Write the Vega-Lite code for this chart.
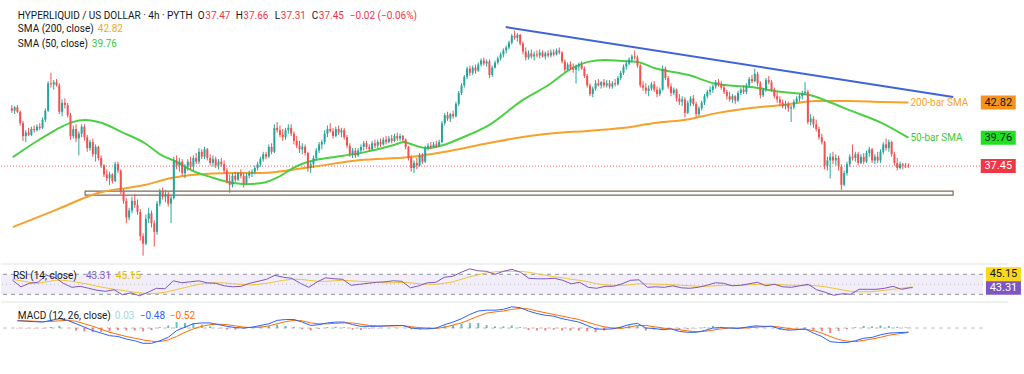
{
"$schema":"https://vega.github.io/schema/vega-lite/v6.json",
"background":"#ffffff",
"padding":0,
"spacing":1,
"config":{"view":{"stroke":null},"font":"Roboto"},
"datasets":{
"candles":[
{"t":"2025-06-14T04:00","o":42.3,"h":42.6,"l":41.9,"c":42.1},{"t":"2025-06-14T08:00","o":42.1,"h":42.5,"l":41.8,"c":42.4},{"t":"2025-06-14T12:00","o":42.4,"h":42.6,"l":41.9,"c":42.0},{"t":"2025-06-14T16:00","o":42.0,"h":42.1,"l":40.8,"c":41.0},{"t":"2025-06-14T20:00","o":41.0,"h":41.2,"l":39.5,"c":39.9},
{"t":"2025-06-15T00:00","o":39.9,"h":40.4,"l":39.4,"c":40.2},{"t":"2025-06-15T04:00","o":40.2,"h":40.6,"l":39.9,"c":40.0},{"t":"2025-06-15T08:00","o":40.0,"h":40.7,"l":39.9,"c":40.5},{"t":"2025-06-15T12:00","o":40.5,"h":40.8,"l":40.2,"c":40.4},{"t":"2025-06-15T16:00","o":40.4,"h":40.9,"l":40.3,"c":40.7},{"t":"2025-06-15T20:00","o":40.7,"h":41.0,"l":40.4,"c":40.6},
{"t":"2025-06-16T00:00","o":40.6,"h":41.5,"l":40.5,"c":41.3},{"t":"2025-06-16T04:00","o":41.3,"h":42.3,"l":41.1,"c":42.1},{"t":"2025-06-16T08:00","o":42.1,"h":44.8,"l":42.0,"c":44.6},{"t":"2025-06-16T12:00","o":44.6,"h":45.6,"l":44.2,"c":44.5},{"t":"2025-06-16T16:00","o":44.5,"h":44.9,"l":44.0,"c":44.7},{"t":"2025-06-16T20:00","o":44.7,"h":45.0,"l":44.3,"c":44.4},
{"t":"2025-06-17T00:00","o":44.4,"h":44.6,"l":41.8,"c":42.0},{"t":"2025-06-17T04:00","o":42.0,"h":43.1,"l":41.6,"c":42.8},{"t":"2025-06-17T08:00","o":42.8,"h":43.2,"l":42.3,"c":42.6},{"t":"2025-06-17T12:00","o":42.6,"h":42.8,"l":41.5,"c":41.7},{"t":"2025-06-17T16:00","o":41.7,"h":41.9,"l":39.6,"c":39.9},{"t":"2025-06-17T20:00","o":39.9,"h":40.8,"l":39.7,"c":40.5},
{"t":"2025-06-18T00:00","o":40.5,"h":40.9,"l":39.4,"c":39.7},{"t":"2025-06-18T04:00","o":39.7,"h":40.3,"l":38.3,"c":40.1},{"t":"2025-06-18T08:00","o":40.1,"h":40.9,"l":39.8,"c":40.7},{"t":"2025-06-18T12:00","o":40.7,"h":40.9,"l":39.5,"c":39.8},{"t":"2025-06-18T16:00","o":39.8,"h":40.0,"l":38.6,"c":38.9},{"t":"2025-06-18T20:00","o":38.9,"h":39.6,"l":38.7,"c":39.4},
{"t":"2025-06-19T00:00","o":39.4,"h":39.7,"l":38.2,"c":38.4},{"t":"2025-06-19T04:00","o":38.4,"h":39.2,"l":37.8,"c":39.0},{"t":"2025-06-19T08:00","o":39.0,"h":39.1,"l":37.9,"c":38.1},{"t":"2025-06-19T12:00","o":38.1,"h":38.3,"l":37.3,"c":37.5},{"t":"2025-06-19T16:00","o":37.5,"h":37.6,"l":36.6,"c":36.8},{"t":"2025-06-19T20:00","o":36.8,"h":37.2,"l":36.3,"c":36.5},
{"t":"2025-06-20T00:00","o":36.5,"h":37.0,"l":36.0,"c":36.8},{"t":"2025-06-20T04:00","o":36.8,"h":36.9,"l":36.1,"c":36.3},{"t":"2025-06-20T08:00","o":36.3,"h":37.8,"l":36.2,"c":37.6},{"t":"2025-06-20T12:00","o":37.6,"h":37.8,"l":36.9,"c":37.1},{"t":"2025-06-20T16:00","o":37.1,"h":37.2,"l":35.3,"c":35.5},{"t":"2025-06-20T20:00","o":35.5,"h":35.7,"l":34.6,"c":34.8},
{"t":"2025-06-21T00:00","o":34.8,"h":35.0,"l":33.2,"c":33.6},{"t":"2025-06-21T04:00","o":33.6,"h":34.3,"l":33.4,"c":34.1},{"t":"2025-06-21T08:00","o":34.1,"h":35.1,"l":33.9,"c":34.8},{"t":"2025-06-21T12:00","o":34.8,"h":35.3,"l":34.3,"c":34.5},{"t":"2025-06-21T16:00","o":34.5,"h":34.9,"l":33.8,"c":34.0},{"t":"2025-06-21T20:00","o":34.0,"h":34.2,"l":32.0,"c":32.3},
{"t":"2025-06-22T00:00","o":32.3,"h":32.5,"l":31.0,"c":31.8},{"t":"2025-06-22T04:00","o":31.8,"h":33.8,"l":31.7,"c":33.5},{"t":"2025-06-22T08:00","o":33.5,"h":34.3,"l":33.2,"c":33.9},{"t":"2025-06-22T12:00","o":33.9,"h":34.1,"l":32.9,"c":33.2},{"t":"2025-06-22T16:00","o":33.2,"h":33.4,"l":31.6,"c":32.6},{"t":"2025-06-22T20:00","o":32.6,"h":34.8,"l":32.4,"c":34.6},
{"t":"2025-06-23T00:00","o":34.6,"h":35.7,"l":34.4,"c":35.5},{"t":"2025-06-23T04:00","o":35.5,"h":35.8,"l":34.9,"c":35.1},{"t":"2025-06-23T08:00","o":35.1,"h":35.6,"l":34.7,"c":35.3},{"t":"2025-06-23T12:00","o":35.3,"h":35.5,"l":34.4,"c":34.6},{"t":"2025-06-23T16:00","o":34.6,"h":35.2,"l":33.2,"c":35.0},{"t":"2025-06-23T20:00","o":35.0,"h":38.2,"l":34.9,"c":37.9},
{"t":"2025-06-24T00:00","o":37.9,"h":38.3,"l":37.2,"c":37.5},{"t":"2025-06-24T04:00","o":37.5,"h":38.1,"l":37.0,"c":37.8},{"t":"2025-06-24T08:00","o":37.8,"h":38.0,"l":36.7,"c":36.9},{"t":"2025-06-24T12:00","o":36.9,"h":37.6,"l":36.5,"c":37.4},{"t":"2025-06-24T16:00","o":37.4,"h":38.0,"l":37.1,"c":37.8},{"t":"2025-06-24T20:00","o":37.8,"h":38.2,"l":37.2,"c":37.4},
{"t":"2025-06-25T00:00","o":37.4,"h":38.3,"l":37.1,"c":38.1},{"t":"2025-06-25T04:00","o":38.1,"h":38.5,"l":37.6,"c":37.8},{"t":"2025-06-25T08:00","o":37.8,"h":38.9,"l":37.6,"c":38.6},{"t":"2025-06-25T12:00","o":38.6,"h":38.8,"l":38.0,"c":38.2},{"t":"2025-06-25T16:00","o":38.2,"h":39.0,"l":38.0,"c":38.8},{"t":"2025-06-25T20:00","o":38.8,"h":38.9,"l":37.9,"c":38.1},
{"t":"2025-06-26T00:00","o":38.1,"h":38.4,"l":37.5,"c":37.7},{"t":"2025-06-26T04:00","o":37.7,"h":38.3,"l":37.4,"c":38.0},{"t":"2025-06-26T08:00","o":38.0,"h":38.2,"l":37.3,"c":37.5},{"t":"2025-06-26T12:00","o":37.5,"h":38.0,"l":37.2,"c":37.8},{"t":"2025-06-26T16:00","o":37.8,"h":38.1,"l":37.4,"c":37.6},{"t":"2025-06-26T20:00","o":37.6,"h":37.9,"l":36.9,"c":37.1},
{"t":"2025-06-27T00:00","o":37.1,"h":37.3,"l":36.1,"c":36.3},{"t":"2025-06-27T04:00","o":36.3,"h":36.8,"l":35.4,"c":36.0},{"t":"2025-06-27T08:00","o":36.0,"h":36.9,"l":35.8,"c":36.7},{"t":"2025-06-27T12:00","o":36.7,"h":37.0,"l":36.2,"c":36.4},{"t":"2025-06-27T16:00","o":36.4,"h":37.0,"l":36.3,"c":36.9},{"t":"2025-06-27T20:00","o":36.9,"h":37.2,"l":36.5,"c":36.7},
{"t":"2025-06-28T00:00","o":36.7,"h":36.9,"l":35.8,"c":36.1},{"t":"2025-06-28T04:00","o":36.1,"h":36.9,"l":36.0,"c":36.7},{"t":"2025-06-28T08:00","o":36.7,"h":37.1,"l":36.5,"c":36.9},{"t":"2025-06-28T12:00","o":36.9,"h":37.2,"l":36.6,"c":37.0},{"t":"2025-06-28T16:00","o":37.0,"h":37.5,"l":36.8,"c":37.3},{"t":"2025-06-28T20:00","o":37.3,"h":37.8,"l":37.1,"c":37.6},
{"t":"2025-06-29T00:00","o":37.6,"h":38.2,"l":37.4,"c":38.0},{"t":"2025-06-29T04:00","o":38.0,"h":38.6,"l":37.8,"c":38.4},{"t":"2025-06-29T08:00","o":38.4,"h":38.6,"l":38.0,"c":38.2},{"t":"2025-06-29T12:00","o":38.2,"h":39.2,"l":38.1,"c":39.0},{"t":"2025-06-29T16:00","o":39.0,"h":39.3,"l":38.4,"c":38.6},{"t":"2025-06-29T20:00","o":38.6,"h":40.9,"l":38.5,"c":40.6},
{"t":"2025-06-30T00:00","o":40.6,"h":41.1,"l":40.2,"c":40.4},{"t":"2025-06-30T04:00","o":40.4,"h":40.8,"l":39.8,"c":40.0},{"t":"2025-06-30T08:00","o":40.0,"h":40.5,"l":39.5,"c":39.8},{"t":"2025-06-30T12:00","o":39.8,"h":40.6,"l":39.6,"c":40.4},{"t":"2025-06-30T16:00","o":40.4,"h":40.9,"l":40.1,"c":40.6},{"t":"2025-06-30T20:00","o":40.6,"h":40.9,"l":39.9,"c":40.1},
{"t":"2025-07-01T00:00","o":40.1,"h":40.3,"l":39.2,"c":39.5},{"t":"2025-07-01T04:00","o":39.5,"h":39.9,"l":38.9,"c":39.1},{"t":"2025-07-01T08:00","o":39.1,"h":39.5,"l":38.5,"c":38.8},{"t":"2025-07-01T12:00","o":38.8,"h":39.3,"l":38.4,"c":39.0},{"t":"2025-07-01T16:00","o":39.0,"h":39.2,"l":38.3,"c":38.5},{"t":"2025-07-01T20:00","o":38.5,"h":38.6,"l":37.0,"c":37.3},
{"t":"2025-07-02T00:00","o":37.3,"h":37.8,"l":36.9,"c":37.6},{"t":"2025-07-02T04:00","o":37.6,"h":38.3,"l":37.3,"c":38.1},{"t":"2025-07-02T08:00","o":38.1,"h":38.9,"l":37.9,"c":38.7},{"t":"2025-07-02T12:00","o":38.7,"h":39.4,"l":38.5,"c":39.2},{"t":"2025-07-02T16:00","o":39.2,"h":39.6,"l":38.8,"c":39.4},{"t":"2025-07-02T20:00","o":39.4,"h":40.4,"l":39.2,"c":40.1},
{"t":"2025-07-03T00:00","o":40.1,"h":40.8,"l":39.8,"c":40.5},{"t":"2025-07-03T04:00","o":40.5,"h":41.0,"l":40.2,"c":40.3},{"t":"2025-07-03T08:00","o":40.3,"h":40.6,"l":39.7,"c":39.9},{"t":"2025-07-03T12:00","o":39.9,"h":40.7,"l":39.8,"c":40.5},{"t":"2025-07-03T16:00","o":40.5,"h":40.8,"l":40.0,"c":40.2},{"t":"2025-07-03T20:00","o":40.2,"h":40.6,"l":39.8,"c":40.4},
{"t":"2025-07-04T00:00","o":40.4,"h":40.6,"l":39.6,"c":39.8},{"t":"2025-07-04T04:00","o":39.8,"h":40.0,"l":38.9,"c":39.1},{"t":"2025-07-04T08:00","o":39.1,"h":39.3,"l":38.2,"c":38.4},{"t":"2025-07-04T12:00","o":38.4,"h":38.9,"l":38.1,"c":38.7},{"t":"2025-07-04T16:00","o":38.7,"h":38.9,"l":38.1,"c":38.3},{"t":"2025-07-04T20:00","o":38.3,"h":38.9,"l":38.2,"c":38.7},
{"t":"2025-07-05T00:00","o":38.7,"h":39.2,"l":38.5,"c":39.0},{"t":"2025-07-05T04:00","o":39.0,"h":39.5,"l":38.7,"c":39.3},{"t":"2025-07-05T08:00","o":39.3,"h":39.5,"l":38.8,"c":39.0},{"t":"2025-07-05T12:00","o":39.0,"h":39.2,"l":38.6,"c":38.8},{"t":"2025-07-05T16:00","o":38.8,"h":39.5,"l":38.7,"c":39.3},{"t":"2025-07-05T20:00","o":39.3,"h":39.6,"l":38.9,"c":39.1},
{"t":"2025-07-06T00:00","o":39.1,"h":39.6,"l":38.9,"c":39.4},{"t":"2025-07-06T04:00","o":39.4,"h":39.7,"l":39.0,"c":39.2},{"t":"2025-07-06T08:00","o":39.2,"h":39.8,"l":39.1,"c":39.6},{"t":"2025-07-06T12:00","o":39.6,"h":39.9,"l":39.2,"c":39.4},{"t":"2025-07-06T16:00","o":39.4,"h":39.9,"l":39.3,"c":39.7},{"t":"2025-07-06T20:00","o":39.7,"h":40.0,"l":39.3,"c":39.5},
{"t":"2025-07-07T00:00","o":39.5,"h":40.1,"l":39.4,"c":39.9},{"t":"2025-07-07T04:00","o":39.9,"h":40.2,"l":39.5,"c":39.7},{"t":"2025-07-07T08:00","o":39.7,"h":40.1,"l":39.5,"c":39.9},{"t":"2025-07-07T12:00","o":39.9,"h":40.0,"l":39.4,"c":39.6},{"t":"2025-07-07T16:00","o":39.6,"h":39.7,"l":38.8,"c":39.0},{"t":"2025-07-07T20:00","o":39.0,"h":39.1,"l":37.9,"c":38.1},
{"t":"2025-07-08T00:00","o":38.1,"h":38.3,"l":37.0,"c":37.3},{"t":"2025-07-08T04:00","o":37.3,"h":37.9,"l":36.9,"c":37.7},{"t":"2025-07-08T08:00","o":37.7,"h":38.1,"l":37.2,"c":37.5},{"t":"2025-07-08T12:00","o":37.5,"h":38.5,"l":37.4,"c":38.3},{"t":"2025-07-08T16:00","o":38.3,"h":38.5,"l":37.6,"c":37.8},{"t":"2025-07-08T20:00","o":37.8,"h":39.1,"l":37.7,"c":38.9},
{"t":"2025-07-09T00:00","o":38.9,"h":39.3,"l":38.7,"c":39.1},{"t":"2025-07-09T04:00","o":39.1,"h":39.4,"l":38.8,"c":39.0},{"t":"2025-07-09T08:00","o":39.0,"h":39.4,"l":38.9,"c":39.2},{"t":"2025-07-09T12:00","o":39.2,"h":39.5,"l":38.9,"c":39.1},{"t":"2025-07-09T16:00","o":39.1,"h":39.6,"l":39.0,"c":39.4},{"t":"2025-07-09T20:00","o":39.4,"h":41.2,"l":39.3,"c":41.0},
{"t":"2025-07-10T00:00","o":41.0,"h":41.9,"l":40.8,"c":41.7},{"t":"2025-07-10T04:00","o":41.7,"h":42.0,"l":41.2,"c":41.4},{"t":"2025-07-10T08:00","o":41.4,"h":41.9,"l":41.1,"c":41.8},{"t":"2025-07-10T12:00","o":41.8,"h":42.1,"l":41.4,"c":41.6},{"t":"2025-07-10T16:00","o":41.6,"h":42.9,"l":41.5,"c":42.7},{"t":"2025-07-10T20:00","o":42.7,"h":43.9,"l":42.5,"c":43.7},
{"t":"2025-07-11T00:00","o":43.7,"h":44.6,"l":43.5,"c":44.4},{"t":"2025-07-11T04:00","o":44.4,"h":45.4,"l":44.2,"c":45.2},{"t":"2025-07-11T08:00","o":45.2,"h":46.2,"l":45.0,"c":46.0},{"t":"2025-07-11T12:00","o":46.0,"h":46.3,"l":45.3,"c":45.6},{"t":"2025-07-11T16:00","o":45.6,"h":46.3,"l":45.4,"c":46.1},{"t":"2025-07-11T20:00","o":46.1,"h":46.4,"l":45.5,"c":45.8},
{"t":"2025-07-12T00:00","o":45.8,"h":46.6,"l":45.7,"c":46.4},{"t":"2025-07-12T04:00","o":46.4,"h":47.0,"l":46.2,"c":46.8},{"t":"2025-07-12T08:00","o":46.8,"h":47.1,"l":46.3,"c":46.5},{"t":"2025-07-12T12:00","o":46.5,"h":46.9,"l":46.2,"c":46.7},{"t":"2025-07-12T16:00","o":46.7,"h":46.9,"l":45.1,"c":45.4},{"t":"2025-07-12T20:00","o":45.4,"h":46.3,"l":45.2,"c":46.1},
{"t":"2025-07-13T00:00","o":46.1,"h":46.8,"l":46.0,"c":46.6},{"t":"2025-07-13T04:00","o":46.6,"h":47.2,"l":46.4,"c":47.0},{"t":"2025-07-13T08:00","o":47.0,"h":47.6,"l":46.8,"c":47.4},{"t":"2025-07-13T12:00","o":47.4,"h":48.0,"l":47.1,"c":47.8},{"t":"2025-07-13T16:00","o":47.8,"h":48.3,"l":47.5,"c":48.1},{"t":"2025-07-13T20:00","o":48.1,"h":48.8,"l":47.9,"c":48.6},
{"t":"2025-07-14T00:00","o":48.6,"h":49.5,"l":48.4,"c":49.3},{"t":"2025-07-14T04:00","o":49.3,"h":49.85,"l":48.9,"c":49.1},{"t":"2025-07-14T08:00","o":49.1,"h":49.6,"l":48.7,"c":49.4},{"t":"2025-07-14T12:00","o":49.4,"h":49.5,"l":48.3,"c":48.5},{"t":"2025-07-14T16:00","o":48.5,"h":48.7,"l":47.4,"c":47.7},{"t":"2025-07-14T20:00","o":47.7,"h":48.1,"l":46.8,"c":47.1},
{"t":"2025-07-15T00:00","o":47.1,"h":47.8,"l":46.9,"c":47.5},{"t":"2025-07-15T04:00","o":47.5,"h":47.9,"l":47.0,"c":47.2},{"t":"2025-07-15T08:00","o":47.2,"h":47.7,"l":46.8,"c":47.4},{"t":"2025-07-15T12:00","o":47.4,"h":47.8,"l":47.1,"c":47.3},{"t":"2025-07-15T16:00","o":47.3,"h":47.9,"l":47.0,"c":47.6},{"t":"2025-07-15T20:00","o":47.6,"h":47.8,"l":47.1,"c":47.2},
{"t":"2025-07-16T00:00","o":47.2,"h":47.7,"l":46.9,"c":47.5},{"t":"2025-07-16T04:00","o":47.5,"h":47.8,"l":47.1,"c":47.3},{"t":"2025-07-16T08:00","o":47.3,"h":47.9,"l":47.1,"c":47.6},{"t":"2025-07-16T12:00","o":47.6,"h":47.9,"l":47.2,"c":47.4},{"t":"2025-07-16T16:00","o":47.4,"h":48.0,"l":47.3,"c":47.8},{"t":"2025-07-16T20:00","o":47.8,"h":48.1,"l":47.4,"c":47.6},
{"t":"2025-07-17T00:00","o":47.6,"h":47.7,"l":46.5,"c":46.7},{"t":"2025-07-17T04:00","o":46.7,"h":46.9,"l":45.7,"c":45.9},{"t":"2025-07-17T08:00","o":45.9,"h":46.6,"l":45.8,"c":46.4},{"t":"2025-07-17T12:00","o":46.4,"h":46.7,"l":45.9,"c":46.1},{"t":"2025-07-17T16:00","o":46.1,"h":46.5,"l":45.6,"c":45.9},{"t":"2025-07-17T20:00","o":45.9,"h":46.4,"l":44.6,"c":46.2},
{"t":"2025-07-18T00:00","o":46.2,"h":46.6,"l":45.8,"c":46.4},{"t":"2025-07-18T04:00","o":46.4,"h":46.7,"l":45.9,"c":46.0},{"t":"2025-07-18T08:00","o":46.0,"h":46.2,"l":45.1,"c":45.3},{"t":"2025-07-18T12:00","o":45.3,"h":45.5,"l":44.2,"c":44.4},{"t":"2025-07-18T16:00","o":44.4,"h":44.6,"l":43.4,"c":43.6},{"t":"2025-07-18T20:00","o":43.6,"h":44.3,"l":43.3,"c":44.1},
{"t":"2025-07-19T00:00","o":44.1,"h":44.9,"l":43.9,"c":44.6},{"t":"2025-07-19T04:00","o":44.6,"h":45.0,"l":44.3,"c":44.4},{"t":"2025-07-19T08:00","o":44.4,"h":44.8,"l":44.1,"c":44.7},{"t":"2025-07-19T12:00","o":44.7,"h":45.0,"l":44.2,"c":44.4},{"t":"2025-07-19T16:00","o":44.4,"h":44.9,"l":44.2,"c":44.6},{"t":"2025-07-19T20:00","o":44.6,"h":44.9,"l":44.1,"c":44.3},
{"t":"2025-07-20T00:00","o":44.3,"h":44.8,"l":44.1,"c":44.6},{"t":"2025-07-20T04:00","o":44.6,"h":45.0,"l":44.3,"c":44.5},{"t":"2025-07-20T08:00","o":44.5,"h":45.3,"l":44.4,"c":45.1},{"t":"2025-07-20T12:00","o":45.1,"h":45.8,"l":44.9,"c":45.6},{"t":"2025-07-20T16:00","o":45.6,"h":46.4,"l":45.4,"c":46.2},{"t":"2025-07-20T20:00","o":46.2,"h":46.8,"l":45.9,"c":46.5},
{"t":"2025-07-21T00:00","o":46.5,"h":47.1,"l":46.3,"c":46.9},{"t":"2025-07-21T04:00","o":46.9,"h":47.4,"l":46.6,"c":47.2},{"t":"2025-07-21T08:00","o":47.2,"h":47.8,"l":46.9,"c":47.1},{"t":"2025-07-21T12:00","o":47.1,"h":47.3,"l":46.1,"c":46.3},{"t":"2025-07-21T16:00","o":46.3,"h":46.5,"l":44.2,"c":44.4},{"t":"2025-07-21T20:00","o":44.4,"h":44.8,"l":43.9,"c":44.2},
{"t":"2025-07-22T00:00","o":44.2,"h":44.6,"l":43.6,"c":43.9},{"t":"2025-07-22T04:00","o":43.9,"h":44.4,"l":43.4,"c":44.1},{"t":"2025-07-22T08:00","o":44.1,"h":44.7,"l":43.9,"c":44.5},{"t":"2025-07-22T12:00","o":44.5,"h":44.8,"l":43.8,"c":44.0},{"t":"2025-07-22T16:00","o":44.0,"h":44.3,"l":43.3,"c":43.6},{"t":"2025-07-22T20:00","o":43.6,"h":44.2,"l":43.4,"c":44.0},
{"t":"2025-07-23T00:00","o":44.0,"h":46.3,"l":43.9,"c":46.0},{"t":"2025-07-23T04:00","o":46.0,"h":46.2,"l":44.9,"c":45.1},{"t":"2025-07-23T08:00","o":45.1,"h":45.3,"l":44.1,"c":44.3},{"t":"2025-07-23T12:00","o":44.3,"h":44.6,"l":43.4,"c":43.7},{"t":"2025-07-23T16:00","o":43.7,"h":44.2,"l":43.5,"c":44.0},{"t":"2025-07-23T20:00","o":44.0,"h":44.1,"l":42.9,"c":43.2},
{"t":"2025-07-24T00:00","o":43.2,"h":43.6,"l":42.6,"c":42.9},{"t":"2025-07-24T04:00","o":42.9,"h":43.4,"l":42.5,"c":43.1},{"t":"2025-07-24T08:00","o":43.1,"h":43.3,"l":41.5,"c":41.9},{"t":"2025-07-24T12:00","o":41.9,"h":43.0,"l":41.8,"c":42.8},{"t":"2025-07-24T16:00","o":42.8,"h":43.4,"l":42.5,"c":43.2},{"t":"2025-07-24T20:00","o":43.2,"h":43.5,"l":42.5,"c":42.7},
{"t":"2025-07-25T00:00","o":42.7,"h":42.9,"l":41.5,"c":41.8},{"t":"2025-07-25T04:00","o":41.8,"h":42.5,"l":41.6,"c":42.3},{"t":"2025-07-25T08:00","o":42.3,"h":43.0,"l":42.1,"c":42.8},{"t":"2025-07-25T12:00","o":42.8,"h":43.6,"l":42.6,"c":43.4},{"t":"2025-07-25T16:00","o":43.4,"h":44.0,"l":43.2,"c":43.8},{"t":"2025-07-25T20:00","o":43.8,"h":44.3,"l":43.5,"c":44.0},
{"t":"2025-07-26T00:00","o":44.0,"h":44.5,"l":43.7,"c":44.3},{"t":"2025-07-26T04:00","o":44.3,"h":44.9,"l":44.1,"c":44.7},{"t":"2025-07-26T08:00","o":44.7,"h":45.0,"l":44.3,"c":44.5},{"t":"2025-07-26T12:00","o":44.5,"h":44.8,"l":44.0,"c":44.2},{"t":"2025-07-26T16:00","o":44.2,"h":44.5,"l":43.6,"c":43.8},{"t":"2025-07-26T20:00","o":43.8,"h":44.0,"l":43.1,"c":43.4},
{"t":"2025-07-27T00:00","o":43.4,"h":43.8,"l":42.9,"c":43.1},{"t":"2025-07-27T04:00","o":43.1,"h":43.6,"l":42.8,"c":43.4},{"t":"2025-07-27T08:00","o":43.4,"h":43.5,"l":42.7,"c":43.0},{"t":"2025-07-27T12:00","o":43.0,"h":43.9,"l":42.9,"c":43.7},{"t":"2025-07-27T16:00","o":43.7,"h":44.2,"l":43.5,"c":44.0},{"t":"2025-07-27T20:00","o":44.0,"h":44.4,"l":43.6,"c":43.8},
{"t":"2025-07-28T00:00","o":43.8,"h":44.6,"l":43.6,"c":44.4},{"t":"2025-07-28T04:00","o":44.4,"h":45.2,"l":44.2,"c":45.0},{"t":"2025-07-28T08:00","o":45.0,"h":45.4,"l":44.6,"c":44.8},{"t":"2025-07-28T12:00","o":44.8,"h":46.0,"l":44.7,"c":45.5},{"t":"2025-07-28T16:00","o":45.5,"h":45.7,"l":44.3,"c":44.6},{"t":"2025-07-28T20:00","o":44.6,"h":44.8,"l":43.2,"c":43.5},
{"t":"2025-07-29T00:00","o":43.5,"h":44.2,"l":43.3,"c":44.0},{"t":"2025-07-29T04:00","o":44.0,"h":45.1,"l":43.8,"c":44.9},{"t":"2025-07-29T08:00","o":44.9,"h":45.3,"l":44.5,"c":44.7},{"t":"2025-07-29T12:00","o":44.7,"h":44.9,"l":43.8,"c":44.0},{"t":"2025-07-29T16:00","o":44.0,"h":44.2,"l":43.2,"c":43.4},{"t":"2025-07-29T20:00","o":43.4,"h":43.8,"l":42.8,"c":43.1},
{"t":"2025-07-30T00:00","o":43.1,"h":43.4,"l":42.5,"c":42.8},{"t":"2025-07-30T04:00","o":42.8,"h":43.1,"l":42.3,"c":42.5},{"t":"2025-07-30T08:00","o":42.5,"h":43.0,"l":42.2,"c":42.7},{"t":"2025-07-30T12:00","o":42.7,"h":42.9,"l":42.0,"c":42.3},{"t":"2025-07-30T16:00","o":42.3,"h":42.6,"l":41.1,"c":42.4},{"t":"2025-07-30T20:00","o":42.4,"h":43.1,"l":42.2,"c":42.9},
{"t":"2025-07-31T00:00","o":42.9,"h":43.4,"l":42.7,"c":43.2},{"t":"2025-07-31T04:00","o":43.2,"h":43.6,"l":42.9,"c":43.4},{"t":"2025-07-31T08:00","o":43.4,"h":43.9,"l":43.1,"c":43.7},{"t":"2025-07-31T12:00","o":43.7,"h":44.7,"l":43.5,"c":43.8},{"t":"2025-07-31T16:00","o":43.8,"h":44.0,"l":40.9,"c":41.1},{"t":"2025-07-31T20:00","o":41.1,"h":41.8,"l":40.8,"c":41.4},
{"t":"2025-08-01T00:00","o":41.4,"h":41.6,"l":40.6,"c":40.9},{"t":"2025-08-01T04:00","o":40.9,"h":41.3,"l":40.3,"c":40.5},{"t":"2025-08-01T08:00","o":40.5,"h":40.7,"l":39.6,"c":39.8},{"t":"2025-08-01T12:00","o":39.8,"h":40.1,"l":39.2,"c":39.4},{"t":"2025-08-01T16:00","o":39.4,"h":39.5,"l":37.2,"c":37.5},{"t":"2025-08-01T20:00","o":37.5,"h":38.2,"l":37.1,"c":37.9},
{"t":"2025-08-02T00:00","o":37.9,"h":38.5,"l":36.5,"c":38.2},{"t":"2025-08-02T04:00","o":38.2,"h":38.6,"l":37.6,"c":37.9},{"t":"2025-08-02T08:00","o":37.9,"h":38.4,"l":37.5,"c":38.1},{"t":"2025-08-02T12:00","o":38.1,"h":38.3,"l":37.1,"c":37.4},{"t":"2025-08-02T16:00","o":37.4,"h":37.6,"l":35.6,"c":36.0},{"t":"2025-08-02T20:00","o":36.0,"h":37.1,"l":35.9,"c":36.9},
{"t":"2025-08-03T00:00","o":36.9,"h":37.8,"l":36.7,"c":37.6},{"t":"2025-08-03T04:00","o":37.6,"h":38.4,"l":37.4,"c":38.2},{"t":"2025-08-03T08:00","o":38.2,"h":39.2,"l":37.9,"c":38.1},{"t":"2025-08-03T12:00","o":38.1,"h":38.6,"l":37.8,"c":38.4},{"t":"2025-08-03T16:00","o":38.4,"h":38.6,"l":37.5,"c":37.7},{"t":"2025-08-03T20:00","o":37.7,"h":38.4,"l":37.6,"c":38.2},
{"t":"2025-08-04T00:00","o":38.2,"h":38.5,"l":37.6,"c":37.8},{"t":"2025-08-04T04:00","o":37.8,"h":38.7,"l":37.7,"c":38.5},{"t":"2025-08-04T08:00","o":38.5,"h":39.0,"l":38.2,"c":38.8},{"t":"2025-08-04T12:00","o":38.8,"h":38.9,"l":37.7,"c":37.9},{"t":"2025-08-04T16:00","o":37.9,"h":38.4,"l":37.6,"c":38.2},{"t":"2025-08-04T20:00","o":38.2,"h":38.6,"l":37.7,"c":37.9},
{"t":"2025-08-05T00:00","o":37.9,"h":38.8,"l":37.7,"c":38.6},{"t":"2025-08-05T04:00","o":38.6,"h":39.4,"l":38.4,"c":39.2},{"t":"2025-08-05T08:00","o":39.2,"h":39.7,"l":38.7,"c":38.9},{"t":"2025-08-05T12:00","o":38.9,"h":39.6,"l":38.6,"c":39.4},{"t":"2025-08-05T16:00","o":39.4,"h":39.5,"l":38.2,"c":38.4},{"t":"2025-08-05T20:00","o":38.4,"h":38.6,"l":37.5,"c":37.7},
{"t":"2025-08-06T00:00","o":37.7,"h":38.1,"l":37.1,"c":37.3},{"t":"2025-08-06T04:00","o":37.3,"h":37.8,"l":37.2,"c":37.6},{"t":"2025-08-06T08:00","o":37.6,"h":37.7,"l":37.2,"c":37.5},{"t":"2025-08-06T12:00","o":37.5,"h":37.7,"l":37.3,"c":37.47},{"t":"2025-08-06T16:00","o":37.47,"h":37.66,"l":37.31,"c":37.45}
],
"sma200":[
{"t":"2025-06-14T05:30","v":32.93},{"t":"2025-06-16T18:30","v":34.13},{"t":"2025-06-19T07:30","v":35.38},{"t":"2025-06-22T02:00","v":35.98},{"t":"2025-06-23T16:30","v":36.52},{"t":"2025-06-24T20:45","v":36.75},{"t":"2025-06-27T09:40","v":36.91},{"t":"2025-06-29T01:30","v":36.91},{"t":"2025-07-02T00:15","v":37.38},{"t":"2025-07-04T23:00","v":37.93},{"t":"2025-07-07T22:00","v":38.17},{"t":"2025-07-09T22:20","v":38.58},{"t":"2025-07-12T15:25","v":39.32},{"t":"2025-07-14T15:35","v":39.82},{"t":"2025-07-16T14:25","v":40.15},{"t":"2025-07-18T13:10","v":40.33},{"t":"2025-07-20T13:25","v":40.58},{"t":"2025-07-22T12:15","v":41.01},{"t":"2025-07-24T13:40","v":41.35},{"t":"2025-07-26T05:30","v":41.88},{"t":"2025-07-28T05:45","v":42.33},{"t":"2025-07-30T04:30","v":42.6},{"t":"2025-08-01T03:20","v":42.96},{"t":"2025-08-03T03:20","v":42.96},{"t":"2025-08-05T02:10","v":42.87},{"t":"2025-08-06T16:00","v":42.82}
],
"sma50":[
{"t":"2025-06-14T05:30","v":38.17},{"t":"2025-06-15T18:30","v":39.57},{"t":"2025-06-16T18:30","v":40.41},{"t":"2025-06-17T18:40","v":41.09},{"t":"2025-06-18T13:00","v":41.27},{"t":"2025-06-19T13:10","v":41.01},{"t":"2025-06-20T17:30","v":40.24},{"t":"2025-06-22T02:00","v":39.32},{"t":"2025-06-23T02:10","v":38.33},{"t":"2025-06-24T00:50","v":37.77},{"t":"2025-06-24T20:45","v":37.14},{"t":"2025-06-26T01:10","v":36.59},{"t":"2025-06-27T09:40","v":36.13},{"t":"2025-06-28T02:40","v":36.05},{"t":"2025-06-29T01:30","v":36.13},{"t":"2025-06-30T01:30","v":36.59},{"t":"2025-07-01T01:40","v":37.38},{"t":"2025-07-02T00:15","v":37.85},{"t":"2025-07-03T00:30","v":38.09},{"t":"2025-07-04T23:00","v":38.49},{"t":"2025-07-06T23:15","v":39.15},{"t":"2025-07-07T13:25","v":39.4},{"t":"2025-07-08T03:35","v":39.15},{"t":"2025-07-08T22:05","v":38.9},{"t":"2025-07-09T22:20","v":39.15},{"t":"2025-07-10T23:45","v":39.74},{"t":"2025-07-12T15:25","v":40.84},{"t":"2025-07-14T15:35","v":43.05},{"t":"2025-07-16T04:35","v":44.44},{"t":"2025-07-17T14:25","v":46.06},{"t":"2025-07-18T13:10","v":46.66},{"t":"2025-07-19T13:10","v":46.85},{"t":"2025-07-20T13:25","v":46.75},{"t":"2025-07-21T12:00","v":46.66},{"t":"2025-07-22T12:15","v":46.06},{"t":"2025-07-24T13:40","v":45.38},{"t":"2025-07-26T05:30","v":44.53},{"t":"2025-07-28T05:45","v":44.25},{"t":"2025-07-30T04:30","v":43.78},{"t":"2025-07-31T18:45","v":43.51},{"t":"2025-08-01T23:00","v":42.87},{"t":"2025-08-03T03:20","v":42.15},{"t":"2025-08-05T02:10","v":41.01},{"t":"2025-08-06T16:00","v":39.76}
],
"trend":[{"t":"2025-07-13T15:20","v":50.22},{"t":"2025-08-09T08:10","v":43.32}],
"zone":[{"t":"2025-06-18T13:00","t2":"2025-08-09T08:00","v":35.53,"v2":35.23}],
"ind":[
{"t":"2025-06-14T12:00","rsi":58,"rma":60,"macd":0.85,"sig":0.9,"hist":-0.05},
{"t":"2025-06-15T00:00","rsi":45,"rma":57,"macd":0.8,"sig":0.85,"hist":-0.05},
{"t":"2025-06-15T12:00","rsi":52,"rma":54,"macd":0.75,"sig":0.8,"hist":-0.05},
{"t":"2025-06-16T00:00","rsi":54,"rma":52,"macd":0.7,"sig":0.75,"hist":-0.05},
{"t":"2025-06-16T12:00","rsi":68,"rma":55,"macd":0.9,"sig":0.78,"hist":0.12},
{"t":"2025-06-17T00:00","rsi":64,"rma":58,"macd":1.1,"sig":0.85,"hist":0.25},
{"t":"2025-06-17T12:00","rsi":52,"rma":58,"macd":0.9,"sig":0.9,"hist":0},
{"t":"2025-06-18T00:00","rsi":44,"rma":56,"macd":0.5,"sig":0.8,"hist":-0.3},
{"t":"2025-06-18T12:00","rsi":46,"rma":53,"macd":0.1,"sig":0.5,"hist":-0.4},
{"t":"2025-06-19T00:00","rsi":42,"rma":50,"macd":-0.3,"sig":0.2,"hist":-0.5},
{"t":"2025-06-19T12:00","rsi":38,"rma":46,"macd":-0.6,"sig":-0.15,"hist":-0.45},
{"t":"2025-06-20T00:00","rsi":36,"rma":43,"macd":-0.9,"sig":-0.5,"hist":-0.4},
{"t":"2025-06-20T12:00","rsi":39,"rma":40,"macd":-1.0,"sig":-0.75,"hist":-0.25},
{"t":"2025-06-21T00:00","rsi":29,"rma":38,"macd":-1.3,"sig":-1.0,"hist":-0.3},
{"t":"2025-06-21T12:00","rsi":33,"rma":35,"macd":-1.5,"sig":-1.2,"hist":-0.3},
{"t":"2025-06-22T00:00","rsi":27,"rma":33,"macd":-1.8,"sig":-1.4,"hist":-0.4},
{"t":"2025-06-22T12:00","rsi":34,"rma":31,"macd":-1.8,"sig":-1.55,"hist":-0.25},
{"t":"2025-06-23T00:00","rsi":42,"rma":32,"macd":-1.5,"sig":-1.6,"hist":0.1},
{"t":"2025-06-23T12:00","rsi":41,"rma":34,"macd":-1.1,"sig":-1.4,"hist":0.3},
{"t":"2025-06-24T00:00","rsi":57,"rma":38,"macd":-0.3,"sig":-1.0,"hist":0.7},
{"t":"2025-06-24T12:00","rsi":53,"rma":42,"macd":0.1,"sig":-0.5,"hist":0.6},
{"t":"2025-06-25T00:00","rsi":55,"rma":46,"macd":0.5,"sig":-0.1,"hist":0.6},
{"t":"2025-06-25T12:00","rsi":57,"rma":50,"macd":0.6,"sig":0.2,"hist":0.4},
{"t":"2025-06-26T00:00","rsi":53,"rma":52,"macd":0.6,"sig":0.4,"hist":0.2},
{"t":"2025-06-26T12:00","rsi":52,"rma":53,"macd":0.4,"sig":0.45,"hist":-0.05},
{"t":"2025-06-27T00:00","rsi":47,"rma":53,"macd":0.2,"sig":0.4,"hist":-0.2},
{"t":"2025-06-27T12:00","rsi":45,"rma":51,"macd":0.05,"sig":0.25,"hist":-0.2},
{"t":"2025-06-28T00:00","rsi":46,"rma":50,"macd":0.0,"sig":0.1,"hist":-0.1},
{"t":"2025-06-28T12:00","rsi":52,"rma":49,"macd":0.1,"sig":0.05,"hist":0.05},
{"t":"2025-06-29T00:00","rsi":56,"rma":50,"macd":0.3,"sig":0.1,"hist":0.2},
{"t":"2025-06-29T12:00","rsi":60,"rma":52,"macd":0.5,"sig":0.25,"hist":0.25},
{"t":"2025-06-30T00:00","rsi":68,"rma":55,"macd":0.9,"sig":0.5,"hist":0.4},
{"t":"2025-06-30T12:00","rsi":64,"rma":58,"macd":1.0,"sig":0.75,"hist":0.25},
{"t":"2025-07-01T00:00","rsi":62,"rma":60,"macd":1.0,"sig":0.9,"hist":0.1},
{"t":"2025-07-01T12:00","rsi":52,"rma":60,"macd":0.7,"sig":0.85,"hist":-0.15},
{"t":"2025-07-02T00:00","rsi":44,"rma":58,"macd":0.3,"sig":0.6,"hist":-0.3},
{"t":"2025-07-02T12:00","rsi":55,"rma":56,"macd":0.4,"sig":0.5,"hist":-0.1},
{"t":"2025-07-03T00:00","rsi":63,"rma":56,"macd":0.6,"sig":0.5,"hist":0.1},
{"t":"2025-07-03T12:00","rsi":61,"rma":57,"macd":0.7,"sig":0.55,"hist":0.15},
{"t":"2025-07-04T00:00","rsi":60,"rma":58,"macd":0.7,"sig":0.6,"hist":0.1},
{"t":"2025-07-04T12:00","rsi":48,"rma":57,"macd":0.4,"sig":0.6,"hist":-0.2},
{"t":"2025-07-05T00:00","rsi":50,"rma":56,"macd":0.2,"sig":0.45,"hist":-0.25},
{"t":"2025-07-05T12:00","rsi":52,"rma":55,"macd":0.2,"sig":0.3,"hist":-0.1},
{"t":"2025-07-06T00:00","rsi":54,"rma":54,"macd":0.2,"sig":0.25,"hist":-0.05},
{"t":"2025-07-06T12:00","rsi":55,"rma":53,"macd":0.25,"sig":0.25,"hist":0},
{"t":"2025-07-07T00:00","rsi":57,"rma":53,"macd":0.3,"sig":0.25,"hist":0.05},
{"t":"2025-07-07T12:00","rsi":56,"rma":54,"macd":0.3,"sig":0.28,"hist":0.02},
{"t":"2025-07-08T00:00","rsi":43,"rma":53,"macd":0.0,"sig":0.15,"hist":-0.15},
{"t":"2025-07-08T12:00","rsi":47,"rma":51,"macd":-0.1,"sig":0.05,"hist":-0.15},
{"t":"2025-07-09T00:00","rsi":53,"rma":50,"macd":-0.1,"sig":0.0,"hist":-0.1},
{"t":"2025-07-09T12:00","rsi":54,"rma":50,"macd":0.0,"sig":-0.05,"hist":0.05},
{"t":"2025-07-10T00:00","rsi":64,"rma":52,"macd":0.4,"sig":0.1,"hist":0.3},
{"t":"2025-07-10T12:00","rsi":66,"rma":55,"macd":0.7,"sig":0.35,"hist":0.35},
{"t":"2025-07-11T00:00","rsi":74,"rma":60,"macd":1.1,"sig":0.6,"hist":0.5},
{"t":"2025-07-11T12:00","rsi":81,"rma":65,"macd":1.6,"sig":1.0,"hist":0.6},
{"t":"2025-07-12T00:00","rsi":77,"rma":69,"macd":2.0,"sig":1.4,"hist":0.6},
{"t":"2025-07-12T12:00","rsi":76,"rma":73,"macd":2.1,"sig":1.75,"hist":0.35},
{"t":"2025-07-13T00:00","rsi":70,"rma":75,"macd":2.1,"sig":1.9,"hist":0.2},
{"t":"2025-07-13T12:00","rsi":76,"rma":76,"macd":2.2,"sig":2.0,"hist":0.2},
{"t":"2025-07-14T00:00","rsi":80,"rma":76,"macd":2.5,"sig":2.2,"hist":0.3},
{"t":"2025-07-14T12:00","rsi":74,"rma":76,"macd":2.4,"sig":2.3,"hist":0.1},
{"t":"2025-07-15T00:00","rsi":62,"rma":74,"macd":2.0,"sig":2.25,"hist":-0.25},
{"t":"2025-07-15T12:00","rsi":61,"rma":71,"macd":1.7,"sig":2.0,"hist":-0.3},
{"t":"2025-07-16T00:00","rsi":61,"rma":68,"macd":1.5,"sig":1.8,"hist":-0.3},
{"t":"2025-07-16T12:00","rsi":62,"rma":65,"macd":1.4,"sig":1.6,"hist":-0.2},
{"t":"2025-07-17T00:00","rsi":58,"rma":63,"macd":1.1,"sig":1.4,"hist":-0.3},
{"t":"2025-07-17T12:00","rsi":51,"rma":60,"macd":0.9,"sig":1.2,"hist":-0.3},
{"t":"2025-07-18T00:00","rsi":54,"rma":58,"macd":0.7,"sig":1.0,"hist":-0.3},
{"t":"2025-07-18T12:00","rsi":44,"rma":55,"macd":0.3,"sig":0.7,"hist":-0.4},
{"t":"2025-07-19T00:00","rsi":42,"rma":51,"macd":-0.1,"sig":0.4,"hist":-0.5},
{"t":"2025-07-19T12:00","rsi":46,"rma":49,"macd":-0.15,"sig":0.15,"hist":-0.3},
{"t":"2025-07-20T00:00","rsi":46,"rma":48,"macd":-0.1,"sig":0.0,"hist":-0.1},
{"t":"2025-07-20T12:00","rsi":51,"rma":48,"macd":0.1,"sig":-0.05,"hist":0.15},
{"t":"2025-07-21T00:00","rsi":58,"rma":49,"macd":0.4,"sig":0.1,"hist":0.3},
{"t":"2025-07-21T12:00","rsi":59,"rma":51,"macd":0.55,"sig":0.3,"hist":0.25},
{"t":"2025-07-22T00:00","rsi":44,"rma":51,"macd":0.0,"sig":0.3,"hist":-0.3},
{"t":"2025-07-22T12:00","rsi":45,"rma":50,"macd":-0.05,"sig":0.15,"hist":-0.2},
{"t":"2025-07-23T00:00","rsi":44,"rma":50,"macd":-0.2,"sig":0.0,"hist":-0.2},
{"t":"2025-07-23T12:00","rsi":47,"rma":49,"macd":-0.1,"sig":-0.1,"hist":0},
{"t":"2025-07-24T00:00","rsi":43,"rma":48,"macd":-0.4,"sig":-0.2,"hist":-0.2},
{"t":"2025-07-24T12:00","rsi":42,"rma":47,"macd":-0.5,"sig":-0.35,"hist":-0.15},
{"t":"2025-07-25T00:00","rsi":44,"rma":46,"macd":-0.5,"sig":-0.45,"hist":-0.05},
{"t":"2025-07-25T12:00","rsi":48,"rma":46,"macd":-0.3,"sig":-0.4,"hist":0.1},
{"t":"2025-07-26T00:00","rsi":53,"rma":47,"macd":0.0,"sig":-0.25,"hist":0.25},
{"t":"2025-07-26T12:00","rsi":52,"rma":48,"macd":0.05,"sig":-0.1,"hist":0.15},
{"t":"2025-07-27T00:00","rsi":47,"rma":48,"macd":0.0,"sig":0.0,"hist":0},
{"t":"2025-07-27T12:00","rsi":48,"rma":48,"macd":-0.05,"sig":0.0,"hist":-0.05},
{"t":"2025-07-28T00:00","rsi":51,"rma":49,"macd":0.1,"sig":0.0,"hist":0.1},
{"t":"2025-07-28T12:00","rsi":54,"rma":50,"macd":0.25,"sig":0.1,"hist":0.15},
{"t":"2025-07-29T00:00","rsi":47,"rma":50,"macd":0.2,"sig":0.15,"hist":0.05},
{"t":"2025-07-29T12:00","rsi":50,"rma":50,"macd":0.2,"sig":0.2,"hist":0},
{"t":"2025-07-30T00:00","rsi":45,"rma":49,"macd":-0.1,"sig":0.1,"hist":-0.2},
{"t":"2025-07-30T12:00","rsi":44,"rma":48,"macd":-0.25,"sig":-0.05,"hist":-0.2},
{"t":"2025-07-31T00:00","rsi":47,"rma":48,"macd":-0.2,"sig":-0.15,"hist":-0.05},
{"t":"2025-07-31T12:00","rsi":50,"rma":48,"macd":-0.1,"sig":-0.15,"hist":0.05},
{"t":"2025-08-01T00:00","rsi":39,"rma":47,"macd":-0.6,"sig":-0.3,"hist":-0.3},
{"t":"2025-08-01T12:00","rsi":34,"rma":45,"macd":-1.0,"sig":-0.6,"hist":-0.4},
{"t":"2025-08-02T00:00","rsi":28,"rma":42,"macd":-1.6,"sig":-1.0,"hist":-0.6},
{"t":"2025-08-02T12:00","rsi":31,"rma":39,"macd":-1.7,"sig":-1.35,"hist":-0.35},
{"t":"2025-08-03T00:00","rsi":30,"rma":36,"macd":-1.7,"sig":-1.55,"hist":-0.15},
{"t":"2025-08-03T12:00","rsi":40,"rma":35,"macd":-1.5,"sig":-1.6,"hist":0.1},
{"t":"2025-08-04T00:00","rsi":40,"rma":35,"macd":-1.2,"sig":-1.45,"hist":0.25},
{"t":"2025-08-04T12:00","rsi":40,"rma":36,"macd":-1.1,"sig":-1.3,"hist":0.2},
{"t":"2025-08-05T00:00","rsi":42,"rma":38,"macd":-0.8,"sig":-1.1,"hist":0.3},
{"t":"2025-08-05T12:00","rsi":46,"rma":40,"macd":-0.6,"sig":-0.85,"hist":0.25},
{"t":"2025-08-06T00:00","rsi":40,"rma":42,"macd":-0.55,"sig":-0.7,"hist":0.15},
{"t":"2025-08-06T12:00","rsi":43,"rma":44,"macd":-0.5,"sig":-0.58,"hist":0.08},
{"t":"2025-08-06T16:00","rsi":43.31,"rma":45.15,"macd":-0.48,"sig":-0.52,"hist":0.03}
]
},
"vconcat":[
{
"width":982,"height":262,
"layer":[
{"data":{"name":"zone"},"mark":{"type":"rect","fill":"#ffffff","stroke":"#7d6b58","strokeWidth":1.2},
 "encoding":{"x":{"field":"t","type":"temporal","scale":{"domain":[{"year":2025,"month":6,"date":13,"hours":19,"minutes":40},{"year":2025,"month":8,"date":10,"hours":19,"minutes":40}]},"axis":null},"x2":{"field":"t2"},
 "y":{"field":"v","type":"quantitative","scale":{"type":"log","domain":[30.59,53.17],"nice":false,"zero":false},"axis":{"orient":"right","values":[31.5,33.5,35.5,43.5,47.5,52.5],"format":".2f","ticks":false,"domain":false,"grid":false,"labelPadding":4,"labelFontSize":11,"labelFont":"Roboto","labelColor":"#131722","title":null,"labelOverlap":false,"labelFlush":false,"labelBound":false}},"y2":{"field":"v2"}}},
{"data":{"values":[{"v":37.45}]},"mark":{"type":"rule","color":"#f23645","strokeDash":[1,2],"strokeWidth":1,"opacity":0.8},"encoding":{"y":{"field":"v","type":"quantitative","axis":null}}},
{"data":{"name":"sma200"},"mark":{"type":"line","color":"#f7a02c","strokeWidth":2,"interpolate":"monotone"},"encoding":{"x":{"field":"t","type":"temporal","axis":null},"y":{"field":"v","type":"quantitative","axis":null}}},
{"data":{"name":"sma50"},"mark":{"type":"line","color":"#4ccf45","strokeWidth":2,"interpolate":"monotone"},"encoding":{"x":{"field":"t","type":"temporal","axis":null},"y":{"field":"v","type":"quantitative","axis":null}}},
{"data":{"name":"trend"},"mark":{"type":"line","color":"#3f63d8","strokeWidth":2},"encoding":{"x":{"field":"t","type":"temporal","axis":null},"y":{"field":"v","type":"quantitative","axis":null}}},
{"data":{"name":"candles"},"mark":{"type":"rule","strokeWidth":1},"encoding":{"x":{"field":"t","type":"temporal","axis":null},"y":{"field":"l","type":"quantitative","axis":null},"y2":{"field":"h"},"color":{"condition":{"test":"datum.c >= datum.o","value":"#26a69a"},"value":"#ef5350"}}},
{"data":{"name":"candles"},"mark":{"type":"bar","size":2},"encoding":{"x":{"field":"t","type":"temporal","axis":null},"y":{"field":"o","type":"quantitative","axis":null},"y2":{"field":"c"},"color":{"condition":{"test":"datum.c >= datum.o","value":"#26a69a"},"value":"#ef5350"}}},
{"data":{"values":[{"s":"HYPERLIQUID / US DOLLAR · 4h · PYTH"}]},"mark":{"type":"text","align":"left","baseline":"middle","fontSize":10,"color":"#131722"},"encoding":{"x":{"datum":{"year":2025,"month":6,"date":14,"hours":12,"minutes":40},"type":"temporal","axis":null},"y":{"datum":51.44,"type":"quantitative","axis":null},"text":{"field":"s"}}},
{"data":{"values":[{"s":"O"}]},"mark":{"type":"text","align":"left","baseline":"middle","fontSize":10,"color":"#131722","dx":180},"encoding":{"x":{"datum":{"year":2025,"month":6,"date":14,"hours":12,"minutes":40},"type":"temporal","axis":null},"y":{"datum":51.44,"type":"quantitative","axis":null},"text":{"field":"s"}}},
{"data":{"values":[{"s":"37.47"}]},"mark":{"type":"text","align":"left","baseline":"middle","fontSize":10,"color":"#f23645","dx":187.5},"encoding":{"x":{"datum":{"year":2025,"month":6,"date":14,"hours":12,"minutes":40},"type":"temporal","axis":null},"y":{"datum":51.44,"type":"quantitative","axis":null},"text":{"field":"s"}}},
{"data":{"values":[{"s":"H"}]},"mark":{"type":"text","align":"left","baseline":"middle","fontSize":10,"color":"#131722","dx":218},"encoding":{"x":{"datum":{"year":2025,"month":6,"date":14,"hours":12,"minutes":40},"type":"temporal","axis":null},"y":{"datum":51.44,"type":"quantitative","axis":null},"text":{"field":"s"}}},
{"data":{"values":[{"s":"37.66"}]},"mark":{"type":"text","align":"left","baseline":"middle","fontSize":10,"color":"#f23645","dx":225.5},"encoding":{"x":{"datum":{"year":2025,"month":6,"date":14,"hours":12,"minutes":40},"type":"temporal","axis":null},"y":{"datum":51.44,"type":"quantitative","axis":null},"text":{"field":"s"}}},
{"data":{"values":[{"s":"L"}]},"mark":{"type":"text","align":"left","baseline":"middle","fontSize":10,"color":"#131722","dx":257},"encoding":{"x":{"datum":{"year":2025,"month":6,"date":14,"hours":12,"minutes":40},"type":"temporal","axis":null},"y":{"datum":51.44,"type":"quantitative","axis":null},"text":{"field":"s"}}},
{"data":{"values":[{"s":"37.31"}]},"mark":{"type":"text","align":"left","baseline":"middle","fontSize":10,"color":"#f23645","dx":263},"encoding":{"x":{"datum":{"year":2025,"month":6,"date":14,"hours":12,"minutes":40},"type":"temporal","axis":null},"y":{"datum":51.44,"type":"quantitative","axis":null},"text":{"field":"s"}}},
{"data":{"values":[{"s":"C"}]},"mark":{"type":"text","align":"left","baseline":"middle","fontSize":10,"color":"#131722","dx":294},"encoding":{"x":{"datum":{"year":2025,"month":6,"date":14,"hours":12,"minutes":40},"type":"temporal","axis":null},"y":{"datum":51.44,"type":"quantitative","axis":null},"text":{"field":"s"}}},
{"data":{"values":[{"s":"37.45"}]},"mark":{"type":"text","align":"left","baseline":"middle","fontSize":10,"color":"#f23645","dx":301},"encoding":{"x":{"datum":{"year":2025,"month":6,"date":14,"hours":12,"minutes":40},"type":"temporal","axis":null},"y":{"datum":51.44,"type":"quantitative","axis":null},"text":{"field":"s"}}},
{"data":{"values":[{"s":"−0.02 (−0.06%)"}]},"mark":{"type":"text","align":"left","baseline":"middle","fontSize":10,"color":"#f23645","dx":332},"encoding":{"x":{"datum":{"year":2025,"month":6,"date":14,"hours":12,"minutes":40},"type":"temporal","axis":null},"y":{"datum":51.44,"type":"quantitative","axis":null},"text":{"field":"s"}}},
{"data":{"values":[{"s":"SMA (200, close)"}]},"mark":{"type":"text","align":"left","baseline":"middle","fontSize":10,"color":"#131722"},"encoding":{"x":{"datum":{"year":2025,"month":6,"date":14,"hours":12,"minutes":40},"type":"temporal","axis":null},"y":{"datum":50.04,"type":"quantitative","axis":null},"text":{"field":"s"}}},
{"data":{"values":[{"s":"42.82"}]},"mark":{"type":"text","align":"left","baseline":"middle","fontSize":10,"color":"#f5a623","dx":80},"encoding":{"x":{"datum":{"year":2025,"month":6,"date":14,"hours":12,"minutes":40},"type":"temporal","axis":null},"y":{"datum":50.04,"type":"quantitative","axis":null},"text":{"field":"s"}}},
{"data":{"values":[{"s":"SMA (50, close)"}]},"mark":{"type":"text","align":"left","baseline":"middle","fontSize":10,"color":"#131722"},"encoding":{"x":{"datum":{"year":2025,"month":6,"date":14,"hours":12,"minutes":40},"type":"temporal","axis":null},"y":{"datum":48.5,"type":"quantitative","axis":null},"text":{"field":"s"}}},
{"data":{"values":[{"s":"39.76"}]},"mark":{"type":"text","align":"left","baseline":"middle","fontSize":10,"color":"#3cc83c","dx":74},"encoding":{"x":{"datum":{"year":2025,"month":6,"date":14,"hours":12,"minutes":40},"type":"temporal","axis":null},"y":{"datum":48.5,"type":"quantitative","axis":null},"text":{"field":"s"}}},
{"data":{"values":[{"s":"200-bar SMA","v":42.82}]},"mark":{"type":"text","align":"left","baseline":"middle","fontSize":10,"color":"#f5a623","dx":2},"encoding":{"x":{"datum":{"year":2025,"month":8,"date":6,"hours":16},"type":"temporal","axis":null},"y":{"field":"v","type":"quantitative","axis":null},"text":{"field":"s"}}},
{"data":{"values":[{"s":"50-bar SMA","v":39.76}]},"mark":{"type":"text","align":"left","baseline":"middle","fontSize":10,"color":"#3cc83c","dx":2},"encoding":{"x":{"datum":{"year":2025,"month":8,"date":6,"hours":16},"type":"temporal","axis":null},"y":{"field":"v","type":"quantitative","axis":null},"text":{"field":"s"}}},
{"data":{"values":[{"k":"SMA 200","v":42.82},{"k":"SMA 50","v":39.76},{"k":"Last","v":37.45}]},"mark":{"type":"point","filled":true,"opacity":1,"shape":"M-1,-0.4L1,-0.4L1,0.4L-1,0.4Z","size":1225,"strokeWidth":0},"encoding":{"x":{"datum":{"year":2025,"month":8,"date":12,"hours":0,"minutes":40},"type":"temporal","axis":null},"y":{"field":"v","type":"quantitative","axis":null},"color":{"field":"k","type":"nominal","scale":{"domain":["SMA 200","SMA 50","Last"],"range":["#f7931a","#1fe21f","#f23645"]},"legend":null}}},
{"data":{"values":[{"k":"SMA 200","v":42.82},{"k":"SMA 50","v":39.76},{"k":"Last","v":37.45}]},"mark":{"type":"text","align":"center","baseline":"middle","font":"Roboto","fontSize":11},"encoding":{"x":{"datum":{"year":2025,"month":8,"date":12,"hours":0,"minutes":40},"type":"temporal","axis":null},"y":{"field":"v","type":"quantitative","axis":null},"text":{"field":"v","type":"quantitative","format":".2f"},"color":{"condition":{"test":"datum.k == 'Last'","value":"#ffffff"},"value":"#131722"}}}
]
},
{
"width":982,"height":38,
"layer":[
{"data":{"values":[{}]},"mark":{"type":"rect","color":"#7e57c2","opacity":0.1},"encoding":{"y":{"datum":70,"type":"quantitative","scale":{"domain":[14.6,90.6],"nice":false,"zero":false},"axis":null},"y2":{"datum":30}}},
{"data":{"values":[{}]},"mark":{"type":"rule","color":"#e0e3eb","strokeWidth":1},"encoding":{"x":{"datum":{"year":2025,"month":6,"date":13,"hours":19,"minutes":40},"type":"temporal","scale":{"domain":[{"year":2025,"month":6,"date":13,"hours":19,"minutes":40},{"year":2025,"month":8,"date":10,"hours":19,"minutes":40}]},"axis":null},"x2":{"datum":{"year":2025,"month":8,"date":12,"hours":7,"minutes":15}},"y":{"datum":90.6,"type":"quantitative","axis":null}}},
{"data":{"values":[{}]},"mark":{"type":"rule","color":"#e0e3eb","strokeWidth":1},"encoding":{"x":{"datum":{"year":2025,"month":6,"date":13,"hours":19,"minutes":40},"type":"temporal","axis":null},"x2":{"datum":{"year":2025,"month":8,"date":12,"hours":7,"minutes":15}},"y":{"datum":14.6,"type":"quantitative","axis":null}}},
{"data":{"values":[{}]},"mark":{"type":"rule","color":"#787b86","strokeDash":[4,4],"strokeWidth":1,"opacity":0.8},"encoding":{"y":{"datum":70,"type":"quantitative","axis":null}}},
{"data":{"values":[{}]},"mark":{"type":"rule","color":"#787b86","strokeDash":[4,4],"strokeWidth":1,"opacity":0.8},"encoding":{"y":{"datum":30,"type":"quantitative","axis":null}}},
{"data":{"values":[{}]},"mark":{"type":"rule","color":"#787b86","strokeDash":[1,3],"strokeWidth":1,"opacity":0.4},"encoding":{"y":{"datum":50,"type":"quantitative","axis":null}}},
{"data":{"name":"ind"},"mark":{"type":"line","color":"#f2c335","strokeWidth":1},"encoding":{"x":{"field":"t","type":"temporal","axis":null},"y":{"field":"rma","type":"quantitative","axis":null}}},
{"data":{"name":"ind"},"mark":{"type":"line","color":"#7e57c2","strokeWidth":1},"encoding":{"x":{"field":"t","type":"temporal","axis":null},"y":{"field":"rsi","type":"quantitative","axis":null}}},
{"data":{"values":[{"s":"RSI (14, close)"}]},"mark":{"type":"text","align":"left","baseline":"middle","fontSize":10,"color":"#131722"},"encoding":{"x":{"datum":{"year":2025,"month":6,"date":14,"hours":12,"minutes":40},"type":"temporal","axis":null},"y":{"datum":66.6,"type":"quantitative","axis":null},"text":{"field":"s"}}},
{"data":{"values":[{"s":"43.31"}]},"mark":{"type":"text","align":"left","baseline":"middle","fontSize":10,"color":"#7e57c2","dx":73},"encoding":{"x":{"datum":{"year":2025,"month":6,"date":14,"hours":12,"minutes":40},"type":"temporal","axis":null},"y":{"datum":66.6,"type":"quantitative","axis":null},"text":{"field":"s"}}},
{"data":{"values":[{"s":"45.15"}]},"mark":{"type":"text","align":"left","baseline":"middle","fontSize":10,"color":"#e6c000","dx":103},"encoding":{"x":{"datum":{"year":2025,"month":6,"date":14,"hours":12,"minutes":40},"type":"temporal","axis":null},"y":{"datum":66.6,"type":"quantitative","axis":null},"text":{"field":"s"}}},
{"data":{"values":[{"v":43.31}]},"mark":{"type":"point","filled":true,"opacity":1,"shape":"M-1,-0.4L1,-0.4L1,0.4L-1,0.4Z","size":1225,"strokeWidth":0,"color":"#7e57c2"},"encoding":{"x":{"datum":{"year":2025,"month":8,"date":12,"hours":0,"minutes":40},"type":"temporal","axis":null},"y":{"field":"v","type":"quantitative","axis":null}}},
{"data":{"values":[{"v":43.31}]},"mark":{"type":"text","align":"center","baseline":"middle","font":"Roboto","fontSize":11,"color":"#ffffff"},"encoding":{"x":{"datum":{"year":2025,"month":8,"date":12,"hours":0,"minutes":40},"type":"temporal","axis":null},"y":{"field":"v","type":"quantitative","axis":null},"text":{"field":"v","type":"quantitative","format":".2f"}}},
{"data":{"values":[{"v":45.15}]},"mark":{"type":"point","filled":true,"opacity":1,"shape":"M-1,-0.4L1,-0.4L1,0.4L-1,0.4Z","size":1225,"strokeWidth":0,"color":"#f9d71c","yOffset":-12.5},"encoding":{"x":{"datum":{"year":2025,"month":8,"date":12,"hours":0,"minutes":40},"type":"temporal","axis":null},"y":{"field":"v","type":"quantitative","axis":null}}},
{"data":{"values":[{"v":45.15}]},"mark":{"type":"text","align":"center","baseline":"middle","font":"Roboto","fontSize":11,"color":"#131722","yOffset":-12.5},"encoding":{"x":{"datum":{"year":2025,"month":8,"date":12,"hours":0,"minutes":40},"type":"temporal","axis":null},"y":{"field":"v","type":"quantitative","axis":null},"text":{"field":"v","type":"quantitative","format":".2f"}}}
]
},
{
"width":982,"height":44,
"layer":[
{"data":{"values":[{}]},"mark":{"type":"rule","color":"#787b86","strokeDash":[4,4],"strokeWidth":1,"opacity":0.5},"encoding":{"y":{"datum":0,"type":"quantitative","scale":{"domain":[-2.47,2.71],"nice":false,"zero":false},"axis":{"orient":"right","values":[0],"format":".2f","ticks":false,"domain":false,"grid":false,"labelPadding":18,"labelFontSize":11,"labelFont":"Roboto","labelColor":"#131722","title":null,"labelOverlap":false}}}},
{"data":{"name":"ind"},"mark":{"type":"bar","size":2,"opacity":0.7},"encoding":{"x":{"field":"t","type":"temporal","scale":{"domain":[{"year":2025,"month":6,"date":13,"hours":19,"minutes":40},{"year":2025,"month":8,"date":10,"hours":19,"minutes":40}]},"axis":{"values":[{"year":2025,"month":6,"date":15},{"year":2025,"month":6,"date":18},{"year":2025,"month":6,"date":21},{"year":2025,"month":6,"date":24},{"year":2025,"month":6,"date":27},{"year":2025,"month":7,"date":1},{"year":2025,"month":7,"date":4},{"year":2025,"month":7,"date":7},{"year":2025,"month":7,"date":10},{"year":2025,"month":7,"date":13},{"year":2025,"month":7,"date":16},{"year":2025,"month":7,"date":19},{"year":2025,"month":7,"date":22},{"year":2025,"month":7,"date":25},{"year":2025,"month":7,"date":28},{"year":2025,"month":8,"date":1},{"year":2025,"month":8,"date":4},{"year":2025,"month":8,"date":7},{"year":2025,"month":8,"date":10}],"labelExpr":"date(datum.value) == 1 ? timeFormat(datum.value, '%b') : timeFormat(datum.value, '%-d')","ticks":false,"domain":false,"grid":false,"labelPadding":6,"labelFontSize":11,"labelFont":"Roboto","labelColor":"#131722","title":null,"labelOverlap":false,"labelFlush":false,"labelBound":false}},"y":{"field":"hist","type":"quantitative","axis":null},"y2":{"datum":0},"color":{"condition":{"test":"datum.hist >= 0","value":"#26a69a"},"value":"#ef5350"}}},
{"data":{"name":"ind"},"mark":{"type":"line","color":"#ff6d00","strokeWidth":1},"encoding":{"x":{"field":"t","type":"temporal","axis":null},"y":{"field":"sig","type":"quantitative","axis":null}}},
{"data":{"name":"ind"},"mark":{"type":"line","color":"#2962ff","strokeWidth":1},"encoding":{"x":{"field":"t","type":"temporal","axis":null},"y":{"field":"macd","type":"quantitative","axis":null}}},
{"data":{"values":[{"s":"MACD (12, 26, close)"}]},"mark":{"type":"text","align":"left","baseline":"middle","fontSize":10,"color":"#131722"},"encoding":{"x":{"datum":{"year":2025,"month":6,"date":14,"hours":12,"minutes":40},"type":"temporal","axis":null},"y":{"datum":1.41,"type":"quantitative","axis":null},"text":{"field":"s"}}},
{"data":{"values":[{"s":"0.03"}]},"mark":{"type":"text","align":"left","baseline":"middle","fontSize":10,"color":"#a5d9d3","dx":97},"encoding":{"x":{"datum":{"year":2025,"month":6,"date":14,"hours":12,"minutes":40},"type":"temporal","axis":null},"y":{"datum":1.41,"type":"quantitative","axis":null},"text":{"field":"s"}}},
{"data":{"values":[{"s":"−0.48"}]},"mark":{"type":"text","align":"left","baseline":"middle","fontSize":10,"color":"#2962ff","dx":122},"encoding":{"x":{"datum":{"year":2025,"month":6,"date":14,"hours":12,"minutes":40},"type":"temporal","axis":null},"y":{"datum":1.41,"type":"quantitative","axis":null},"text":{"field":"s"}}},
{"data":{"values":[{"s":"−0.52"}]},"mark":{"type":"text","align":"left","baseline":"middle","fontSize":10,"color":"#ff6d00","dx":152},"encoding":{"x":{"datum":{"year":2025,"month":6,"date":14,"hours":12,"minutes":40},"type":"temporal","axis":null},"y":{"datum":1.41,"type":"quantitative","axis":null},"text":{"field":"s"}}}
]
}
]
}
